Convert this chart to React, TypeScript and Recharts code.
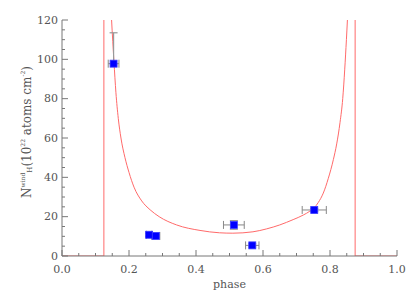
import React from 'react';
import { ComposedChart, Line, Scatter, XAxis, YAxis, ErrorBar } from 'recharts';

// Observed points
const obsPhase = [0.154, 0.26, 0.28, 0.513, 0.568, 0.753];
const obsNH = [97.8, 10.8, 10.2, 15.8, 5.4, 23.4];
const obsPhaseErr = [0.016, 0.008, 0.012, 0.031, 0.02, 0.036];
const obsNHErrLow = [0, 0.8, 0.8, 2.2, 0.8, 0.8];
const obsNHErrHigh = [15.7, 0.8, 0.8, 2.2, 0.8, 0.8];

// Model curve
const modelPhase = [0.142, 0.148, 0.155, 0.161, 0.168, 0.176, 0.188, 0.2, 0.215, 0.238, 0.263, 0.29, 0.342, 0.412, 0.47, 0.51, 0.57, 0.611, 0.65, 0.69, 0.72, 0.74, 0.753, 0.765, 0.78, 0.795, 0.81, 0.82, 0.83, 0.838, 0.844, 0.849, 0.852, 0.856];
const modelNH = [140, 120, 99, 83, 70, 60, 50, 42.5, 35, 28, 23.5, 20, 15.8, 13, 11.8, 11.6, 12.3, 13.8, 15.8, 18.5, 20.8, 22.8, 24.5, 27.2, 32, 39.5, 49, 57, 68, 80, 95, 110, 120, 135];

// Eclipse edges (model is zero outside)
const leftEdgePhase = [0, 0.125, 0.125];
const leftEdgeNH = [0, 0, 1000];
const rightEdgePhase = [0.875, 0.875, 1.0];
const rightEdgeNH = [1000, 0, 0];

const xTicks = [0, 0.05, 0.1, 0.15, 0.2, 0.25, 0.3, 0.35, 0.4, 0.45, 0.5, 0.55, 0.6, 0.65, 0.7, 0.75, 0.8, 0.85, 0.9, 0.95, 1.0];
const yTicks = [0, 5, 10, 15, 20, 25, 30, 35, 40, 45, 50, 55, 60, 65, 70, 75, 80, 85, 90, 95, 100, 105, 110, 115, 120];

const obsData = obsPhase.map((p, i) => ({
  phase: p,
  n: obsNH[i],
  xErr: obsPhaseErr[i],
  yErr: [obsNHErrLow[i], obsNHErrHigh[i]],
}));
const modelData = modelPhase.map((p, i) => ({ phase: p, n: modelNH[i] }));
const leftData = leftEdgePhase.map((p, i) => ({ phase: p, n: leftEdgeNH[i] }));
const rightData = rightEdgePhase.map((p, i) => ({ phase: p, n: rightEdgeNH[i] }));

const AX = '#777';
const TXT = '#555';
const FONT = 'DejaVu Serif';
const FS = 11;
const RED = '#ff6a6a';

const isMajorX = (v: number) => Math.abs(v * 5 - Math.round(v * 5)) < 1e-6;
const isMajorY = (v: number) => v % 20 === 0;

const BottomTick = (props: any) => {
  const { x, y, payload } = props;
  const v = payload.value;
  const major = isMajorX(v);
  return (
    <g>
      <line x1={x} x2={x} y1={y} y2={y - (major ? 6 : 3)} stroke={AX} />
      {major && (
        <text x={x} y={y + 13} textAnchor="middle" dominantBaseline="central" fontFamily={FONT} fontSize={FS} fill={TXT}>
          {v.toFixed(1)}
        </text>
      )}
    </g>
  );
};

const TopTick = (props: any) => {
  const { x, y, payload } = props;
  const major = isMajorX(payload.value);
  return <line x1={x} x2={x} y1={y} y2={y + (major ? 6 : 3)} stroke={AX} />;
};

const LeftTick = (props: any) => {
  const { x, y, payload } = props;
  const v = payload.value;
  const major = isMajorY(v);
  return (
    <g>
      <line x1={x} x2={x + (major ? 6 : 3)} y1={y} y2={y} stroke={AX} />
      {major && (
        <text x={x - 4} y={y} textAnchor="end" dominantBaseline="central" fontFamily={FONT} fontSize={FS} fill={TXT}>
          {v}
        </text>
      )}
    </g>
  );
};

const RightTick = (props: any) => {
  const { x, y, payload } = props;
  const major = isMajorY(payload.value);
  return <line x1={x} x2={x - (major ? 6 : 3)} y1={y} y2={y} stroke={AX} />;
};

const YLabel = (props: any) => {
  const vb = props.viewBox || {};
  const cx = 27;
  const cy = (vb.y ?? 20) + (vb.height ?? 236) / 2 - 6;
  return (
    <text
      x={cx}
      y={cy}
      transform={`rotate(-90 ${cx} ${cy})`}
      textAnchor="middle"
      dominantBaseline="central"
      fontFamily={FONT}
      fontSize={12}
      fill={TXT}
    >
      <tspan>N</tspan>
      <tspan fontSize={6} dy={-5}>wind</tspan>
      <tspan fontSize={7} dy={8}>H</tspan>
      <tspan dy={-3}>(10</tspan>
      <tspan fontSize={6} dy={-5}>22</tspan>
      <tspan dy={5}> atoms cm</tspan>
      <tspan fontSize={6} dy={-5}>-2</tspan>
      <tspan dy={5}>)</tspan>
    </text>
  );
};

const XLabel = (props: any) => {
  const vb = props.viewBox || {};
  const cx = (vb.x ?? 62) + (vb.width ?? 335) / 2;
  return (
    <text x={cx} y={284} textAnchor="middle" dominantBaseline="central" fontFamily={FONT} fontSize={FS} fill={TXT}>
      phase
    </text>
  );
};

const Square = (props: any) => {
  const { cx, cy } = props;
  if (cx == null || cy == null) return null;
  return <rect x={cx - 3.5} y={cy - 3.5} width={7} height={7} fill="#0000ff" stroke="#3a3aff" strokeWidth={0.8} />;
};

export default function App() {
  return (
    <div style={{ position: 'absolute', left: 0, top: 0, width: 415, height: 297, background: '#fff' }}>
      <ComposedChart width={415} height={297} margin={{ top: 20, right: 18, bottom: 0, left: 0 }}>
        <XAxis
          xAxisId="main"
          dataKey="phase"
          type="number"
          domain={[0, 1]}
          allowDataOverflow
          ticks={xTicks}
          interval={0}
          tickSize={0}
          tickMargin={0}
          tick={<BottomTick />}
          axisLine={{ stroke: AX }}
          height={41}
          label={<XLabel />}
        />
        <XAxis
          xAxisId="top"
          orientation="top"
          dataKey="phase"
          type="number"
          domain={[0, 1]}
          allowDataOverflow
          ticks={xTicks}
          interval={0}
          tickSize={0}
          tickMargin={0}
          tick={<TopTick />}
          axisLine={{ stroke: AX }}
          height={0}
        />
        <YAxis
          yAxisId="main"
          dataKey="n"
          type="number"
          domain={[0, 120]}
          allowDataOverflow
          ticks={yTicks}
          interval={0}
          tickSize={0}
          tickMargin={0}
          tick={<LeftTick />}
          axisLine={{ stroke: AX }}
          width={62}
          label={<YLabel />}
        />
        <YAxis
          yAxisId="right"
          orientation="right"
          dataKey="n"
          type="number"
          domain={[0, 120]}
          allowDataOverflow
          ticks={yTicks}
          interval={0}
          tickSize={0}
          tickMargin={0}
          tick={<RightTick />}
          axisLine={{ stroke: AX }}
          width={0}
        />
        <Line xAxisId="main" yAxisId="main" data={leftData} dataKey="n" type="linear" stroke={RED} strokeWidth={1} dot={false} isAnimationActive={false} />
        <Line xAxisId="main" yAxisId="main" data={rightData} dataKey="n" type="linear" stroke={RED} strokeWidth={1} dot={false} isAnimationActive={false} />
        <Line xAxisId="main" yAxisId="main" data={modelData} dataKey="n" type="monotone" stroke={RED} strokeWidth={1} dot={false} isAnimationActive={false} />
        <Scatter xAxisId="main" yAxisId="main" data={obsData} dataKey="n" shape={<Square />} isAnimationActive={false}>
          <ErrorBar dataKey="xErr" direction="x" width={4} stroke="#888" strokeWidth={1} />
          <ErrorBar dataKey="yErr" direction="y" width={4} stroke="#999" strokeWidth={1.2} />
        </Scatter>
      </ComposedChart>
    </div>
  );
}
